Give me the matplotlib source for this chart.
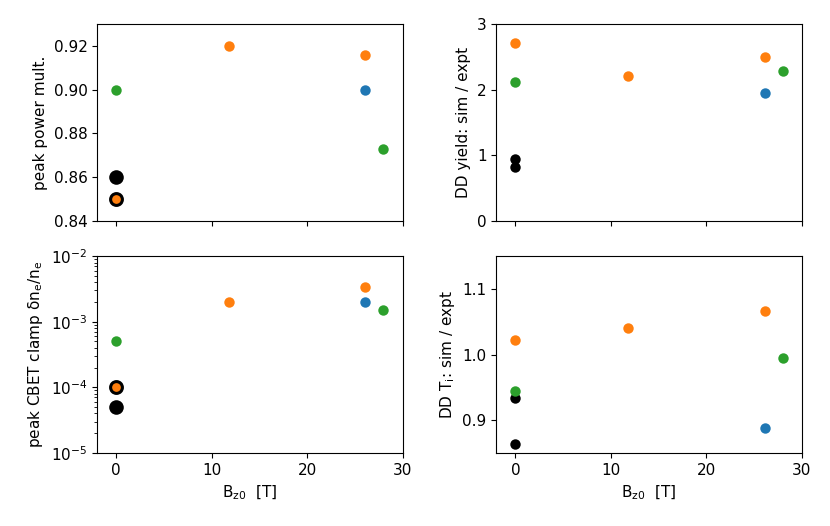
import matplotlib

matplotlib.use("Agg")
import matplotlib.pyplot as plt
import numpy as np

# B_z0 [T] positions per run group
BZ_GREEN = [0.0, 28.0]
BZ_ORANGE = [0.0, 11.8, 26.1]
BZ_BLUE = [26.1]
BZ_BLACK = [0.0, 0.0]

# peak power multiplier
POWER_GREEN = [0.900, 0.873]
POWER_ORANGE = [0.850, 0.920, 0.916]
POWER_BLUE = [0.900]
POWER_BLACK = [0.860]

# DD yield sim / expt
YIELD_GREEN = [2.12, 2.28]
YIELD_ORANGE = [2.72, 2.21, 2.50]
YIELD_BLUE = [1.95]
YIELD_BLACK = [0.94, 0.82]

# peak CBET clamp dn_e/n_e
CBET_GREEN = [5e-4, 1.5e-3]
CBET_ORANGE = [1e-4, 2e-3, 3.4e-3]
CBET_BLUE = [2e-3]
CBET_BLACK = [5e-5]

# DD Ti sim / expt
TI_GREEN = [0.945, 0.995]
TI_ORANGE = [1.022, 1.041, 1.066]
TI_BLUE = [0.888]
TI_BLACK = [0.934, 0.863]

MS = 7.5
plt.rcParams["font.size"] = 11


def draw_left(ax, green, orange, blue, black):
    ax.plot(BZ_BLACK[:1], black, "o", color="k", ms=10.5, mew=0)
    ax.plot(BZ_ORANGE[:1], orange[:1], "o", mfc="tab:orange", mec="k",
            ms=8.5, mew=2.2)
    ax.plot(BZ_ORANGE[1:], orange[1:], "o", color="tab:orange", ms=MS, mew=0)
    ax.plot(BZ_BLUE, blue, "o", color="tab:blue", ms=MS, mew=0)
    ax.plot(BZ_GREEN, green, "o", color="tab:green", ms=MS, mew=0)


def draw_right(ax, green, orange, blue, black):
    ax.plot(BZ_BLACK, black, "o", color="k", ms=MS, mew=0)
    ax.plot(BZ_ORANGE, orange, "o", color="tab:orange", ms=MS, mew=0)
    ax.plot(BZ_BLUE, blue, "o", color="tab:blue", ms=MS, mew=0)
    ax.plot(BZ_GREEN, green, "o", color="tab:green", ms=MS, mew=0)


fig, axes = plt.subplots(2, 2, figsize=(8.3, 5.26), dpi=100, sharex=True)
fig.subplots_adjust(left=0.117, right=0.966, top=0.954, bottom=0.139,
                    wspace=0.307, hspace=0.179)

ax = axes[0, 0]
draw_left(ax, POWER_GREEN, POWER_ORANGE, POWER_BLUE, POWER_BLACK)
ax.set_ylim(0.84, 0.93)
ax.set_yticks(np.arange(0.84, 0.921, 0.02))
ax.set_ylabel("peak power mult.")

ax = axes[0, 1]
draw_right(ax, YIELD_GREEN, YIELD_ORANGE, YIELD_BLUE, YIELD_BLACK)
ax.set_ylim(0, 3)
ax.set_yticks([0, 1, 2, 3])
ax.set_ylabel("DD yield: sim / expt")

ax = axes[1, 0]
draw_left(ax, CBET_GREEN, CBET_ORANGE, CBET_BLUE, CBET_BLACK)
ax.set_yscale("log")
ax.set_ylim(1e-5, 1e-2)
ax.set_ylabel(r"peak CBET clamp $\mathregular{\delta n_e/n_e}$")
ax.set_xlabel(r"$\mathregular{B_{z0}}$  [T]")

ax = axes[1, 1]
draw_right(ax, TI_GREEN, TI_ORANGE, TI_BLUE, TI_BLACK)
ax.set_ylim(0.85, 1.15)
ax.set_yticks([0.9, 1.0, 1.1])
ax.set_ylabel(r"DD $\mathregular{T_i}$: sim / expt")
ax.set_xlabel(r"$\mathregular{B_{z0}}$  [T]")

for ax in axes.flat:
    ax.set_xlim(-2, 30)
    ax.set_xticks([0, 10, 20, 30])

fig.savefig("out.png", dpi=100)
